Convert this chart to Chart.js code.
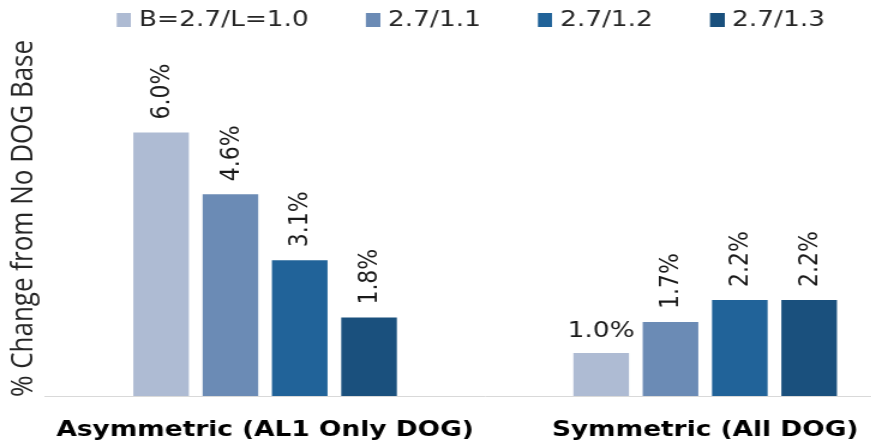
<!DOCTYPE html>
<html>
<head>
<meta charset="utf-8">
<script src="https://cdn.jsdelivr.net/npm/chart.js@4/dist/chart.umd.min.js"></script>
<style>
  html, body { margin: 0; padding: 0; background: #ffffff; overflow: hidden; }
  /* the chart is drawn on a narrower canvas and widened horizontally */
  #wrap { position: absolute; left: 0; top: 0; width: 771px; height: 448px;
          transform: scaleX(1.2); transform-origin: 0 0; }
</style>
</head>
<body>
<div id="wrap"><canvas id="chart"></canvas></div>
<script>
// Categories and series
const categories = ['Asymmetric (AL1 Only DOG)', 'Symmetric (All DOG)'];
const seriesNames = ['B=2.7/L=1.0', '2.7/1.1', '2.7/1.2', '2.7/1.3'];
const seriesL10 = [6.0, 1.0];
const seriesL11 = [4.6, 1.7];
const seriesL12 = [3.1, 2.2];
const seriesL13 = [1.8, 2.2];
const axisTitle = '% Change from No DOG Base';

const colors = ['#aebbd3', '#6b8bb5', '#216399', '#1a507d'];
// value labels drawn upright instead of rotated: [dataset, category]
const uprightLabels = [[0, 1]];

const seriesValues = [seriesL10, seriesL11, seriesL12, seriesL13];

// legend marker: a small swatch at the right edge of a transparent strip
function markerImage(color) {
  const c = document.createElement('canvas');
  c.width = 55; c.height = 14;
  const g = c.getContext('2d');
  g.fillStyle = color;
  g.fillRect(43, 0, 12, 14);
  return c;
}
const markers = colors.map(markerImage);

const valueLabels = {
  id: 'valueLabels',
  afterDatasetsDraw(chart) {
    const ctx = chart.ctx;
    ctx.save();
    ctx.font = '22px "DejaVu Sans"';
    ctx.fillStyle = '#1a1a1a';
    chart.data.datasets.forEach((ds, di) => {
      chart.getDatasetMeta(di).data.forEach((bar, i) => {
        const text = ds.data[i].toFixed(1) + '%';
        const upright = uprightLabels.some(([d, c]) => d === di && c === i);
        if (upright) {
          ctx.textAlign = 'center';
          ctx.textBaseline = 'alphabetic';
          ctx.fillText(text, bar.x, bar.y - 15);
        } else {
          ctx.save();
          ctx.translate(bar.x + 1, bar.y - 12);
          ctx.rotate(-Math.PI / 2);
          ctx.textAlign = 'left';
          ctx.textBaseline = 'middle';
          ctx.fillText(text, 0, 0);
          ctx.restore();
        }
      });
    });
    ctx.restore();
  }
};

const legendShift = {
  id: 'legendShift',
  afterLayout(chart) {
    if (chart.legend) {
      chart.legend.left -= 12.4;
      chart.legend.right -= 12.4;
    }
  }
};

Chart.defaults.font.family = '"DejaVu Sans"';

new Chart(document.getElementById('chart'), {
  type: 'bar',
  data: {
    labels: categories,
    datasets: seriesValues.map((vals, i) => ({
      label: seriesNames[i],
      data: vals,
      backgroundColor: colors[i],
      borderColor: 'rgba(255,255,255,0.25)',
      borderWidth: 1,
      categoryPercentage: 0.63,
      barPercentage: 0.837
    }))
  },
  options: {
    responsive: true,
    maintainAspectRatio: false,
    animation: false,
    layout: { padding: { top: 0, right: 0, bottom: -16.4, left: 0 } },
    plugins: {
      tooltip: { enabled: false },
      legend: {
        position: 'top',
        labels: {
          usePointStyle: true,
          pointStyleWidth: 46,
          boxHeight: 14,
          padding: 9,
          color: '#262626',
          font: { size: 22 },
          generateLabels(chart) {
            const items = Chart.defaults.plugins.legend.labels.generateLabels(chart);
            items.forEach((it, i) => { it.pointStyle = markers[i]; });
            return items;
          }
        }
      }
    },
    scales: {
      x: {
        grid: { display: false, drawTicks: false },
        border: { display: true, color: '#d9d9d9', width: 1 },
        ticks: {
          color: '#000000',
          font: { size: 22, weight: 'bold' },
          padding: 21,
          maxRotation: 0,
          autoSkip: false
        }
      },
      y: {
        min: 0,
        max: 8.05,
        grid: { display: false, drawTicks: false },
        border: { display: false },
        ticks: { display: false },
        title: {
          display: true,
          text: axisTitle,
          color: '#262626',
          font: { family: '"Open Sans"', size: 26, lineHeight: 1 },
          padding: { top: 7, bottom: 4.5 }
        }
      }
    }
  },
  plugins: [valueLabels, legendShift]
});
</script>
</body>
</html>
